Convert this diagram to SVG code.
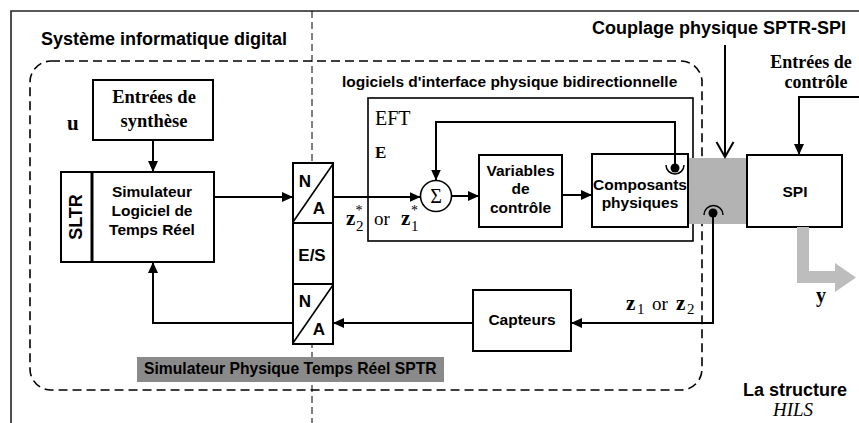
<svg xmlns="http://www.w3.org/2000/svg" width="859" height="423" viewBox="0 0 859 423">
<style>
.sans{font-family:"Liberation Sans",Arial,sans-serif;font-weight:bold;fill:#000}
.serif{font-family:"Liberation Serif","Times New Roman",serif;fill:#000}
.b{font-weight:bold}
.box{fill:#fff;stroke:#000;stroke-width:2}
.ln{fill:none;stroke:#000;stroke-width:2}
.dash{fill:none;stroke:#000;stroke-width:1.6;stroke-dasharray:9,5}
.vdash{fill:none;stroke:#000;stroke-width:1;stroke-dasharray:7,4}
.m{font-size:15.5px}
.c{text-anchor:middle}
</style>
<defs>
<marker id="ah" markerUnits="userSpaceOnUse" markerWidth="11" markerHeight="10" refX="11" refY="5" orient="auto">
<path d="M0,0 L11,5 L0,10 z" fill="#000"/>
</marker>
</defs>
<rect width="859" height="423" fill="#fff"/>
<!-- frame -->
<path d="M11,423 V11 H859" fill="none" stroke="#222" stroke-width="1.6"/>
<line class="vdash" x1="312" y1="11" x2="312" y2="423"/>
<rect class="dash" x="30" y="61" width="672" height="329" rx="21"/>
<text class="sans" x="41" y="45" font-size="18">Système informatique digital</text>
<text class="sans" x="592" y="34" font-size="18">Couplage physique SPTR-SPI</text>
<text class="sans" x="342" y="87" font-size="15.5">logiciels d'interface physique bidirectionnelle</text>
<text class="serif b c" x="811" y="68" font-size="18">Entrées de</text>
<text class="serif b c" x="816" y="88" font-size="18">contrôle</text>

<!-- EFT box -->
<g id="eft">
<rect x="368" y="98" width="325" height="143" fill="none" stroke="#000" stroke-width="1.6"/>
<text class="serif" x="375" y="125" font-size="20">EFT</text>
<text class="serif b" x="375" y="158" font-size="17">E</text>
</g>

<g id="entrees-synthese">
<rect class="box" x="93" y="80" width="120" height="60"/>
<text class="serif b c" x="154" y="103" font-size="18.5">Entrées de</text>
<text class="serif b c" x="154" y="127" font-size="18.5">synthèse</text>
</g>
<text class="serif b" x="67" y="130" font-size="21">u</text>

<g id="sltr">
<rect class="box" x="61" y="172" width="153" height="90"/>
<line x1="92" y1="172" x2="92" y2="262" stroke="#000" stroke-width="3"/>
<text class="sans c" transform="translate(82,217) rotate(-90)" x="0" y="0" font-size="18">SLTR</text>
<text class="sans m c" x="152" y="197">Simulateur</text>
<text class="sans m c" x="152" y="216">Logiciel de</text>
<text class="sans m c" x="152" y="235">Temps Réel</text>
</g>

<g id="na-es">
<rect class="box" x="293" y="163" width="40" height="181"/>
<line class="ln" x1="293" y1="223" x2="333" y2="223"/>
<line class="ln" x1="293" y1="284" x2="333" y2="284"/>
<line x1="293" y1="222" x2="333" y2="164" stroke="#000" stroke-width="1.6"/>
<line x1="293" y1="343" x2="333" y2="285" stroke="#000" stroke-width="1.6"/>
<text class="sans c" x="305" y="187" font-size="17">N</text>
<text class="sans c" x="319" y="214" font-size="17">A</text>
<text class="sans c" x="312" y="261" font-size="17">E/S</text>
<text class="sans c" x="305" y="307" font-size="17">N</text>
<text class="sans c" x="319" y="335" font-size="17">A</text>
</g>

<g id="sigma">
<circle cx="436" cy="196" r="15.5" fill="#fff" stroke="#000" stroke-width="1.6"/>
<text class="serif c" x="436" y="203" font-size="20">Σ</text>
</g>

<g id="variables">
<rect class="box" x="479" y="155" width="83" height="72"/>
<text class="sans m c" x="520.5" y="176">Variables</text>
<text class="sans m c" x="520.5" y="194">de</text>
<text class="sans m c" x="520.5" y="213">contrôle</text>
</g>

<g id="couplage">
<rect x="688" y="158" width="59" height="66" fill="#b3b3b3"/>
</g>

<g id="composants">
<rect class="box" x="592" y="154" width="96" height="73"/>
<text class="sans m c" x="640" y="190">Composants</text>
<text class="sans m c" x="640" y="208">physiques</text>
</g>

<g id="spi">
<rect class="box" x="747" y="155" width="95" height="72"/>
<text class="sans m c" x="795" y="197">SPI</text>
</g>

<g id="capteurs">
<rect class="box" x="473" y="290" width="98" height="61"/>
<text class="sans m c" x="522" y="325">Capteurs</text>
</g>

<g id="sptr-label">
<rect x="137" y="357" width="307" height="25" fill="#8a8a8a"/>
<text class="sans" x="144" y="374" font-size="15.7">Simulateur Physique Temps Réel SPTR</text>
</g>

<g id="connectors">
<path class="ln" d="M153,140 V172" marker-end="url(#ah)"/>
<path class="ln" d="M214,197 H293" marker-end="url(#ah)"/>
<path class="ln" d="M333,197 H420.5" marker-end="url(#ah)"/>
<path class="ln" d="M451.5,196 H479" marker-end="url(#ah)"/>
<path class="ln" d="M562,195 H592" marker-end="url(#ah)"/>
<path class="ln" d="M675,168 V122 H436 V180.5" marker-end="url(#ah)"/>
<path class="ln" d="M713,213 V323 H571" marker-end="url(#ah)"/>
<path class="ln" d="M473,323 H333" marker-end="url(#ah)"/>
<path class="ln" d="M293,323 H153 V262" marker-end="url(#ah)"/>
<path class="ln" d="M859,97 H799 V155" marker-end="url(#ah)"/>
<path class="ln" d="M725,45 V157"/>
<path d="M716.5,142 L725,157 L733.5,142" fill="none" stroke="#000" stroke-width="2"/>
<circle cx="675" cy="168" r="4.5" fill="#000"/>
<path d="M666,165 A9,9 0 0 0 684,165" fill="none" stroke="#000" stroke-width="1.5"/>
<circle cx="713" cy="213" r="4.5" fill="#000"/>
<path d="M704,215 A9.5,9.5 0 0 1 723,215" fill="none" stroke="#000" stroke-width="1.5"/>
<path d="M797,227 H809 V271 H835 V263 L856,277.5 L835,292 V283 H797 Z" fill="#bdbdbd"/>
</g>

<text class="serif b" x="346" y="225" font-size="21">z</text>
<text class="serif" x="356" y="231" font-size="15">2</text>
<text class="serif" x="355.5" y="215" font-size="14">*</text>
<text class="serif" x="374" y="225" font-size="19">or</text>
<text class="serif b" x="401" y="225" font-size="21">z</text>
<text class="serif" x="411" y="231" font-size="15">1</text>
<text class="serif" x="411" y="215" font-size="14">*</text>

<text class="serif b" x="626" y="310" font-size="21">z</text>
<text class="serif" x="637" y="314" font-size="15">1</text>
<text class="serif" x="652" y="310" font-size="19">or</text>
<text class="serif b" x="676" y="310" font-size="21">z</text>
<text class="serif" x="687" y="314" font-size="15">2</text>

<text class="serif b" x="816" y="302" font-size="20">y</text>
<text class="sans" x="743" y="396" font-size="18">La structure</text>
<text class="serif" x="773" y="416" font-size="19" font-style="italic">HILS</text>
</svg>
